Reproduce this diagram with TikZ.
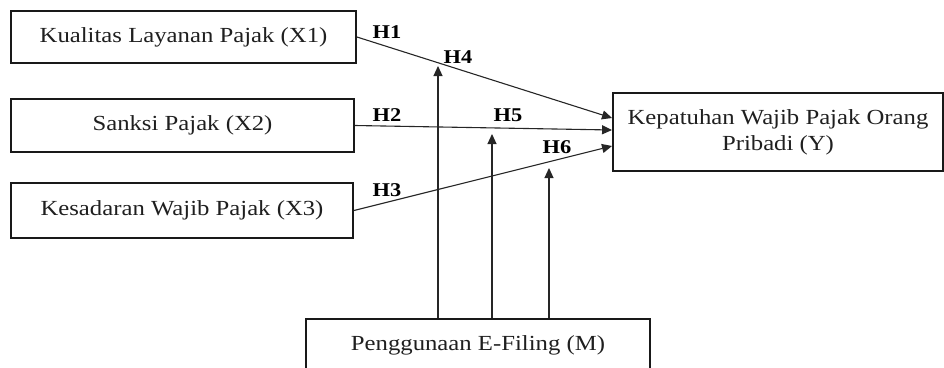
\documentclass[tikz,border=0pt]{standalone}
\usepackage{fontspec}
\setmainfont{Liberation Serif}[FakeStretch=1.15]
\usetikzlibrary{arrows.meta,calc}
\begin{document}
\begin{tikzpicture}[x=1bp,y=-1bp,
  varbox/.style={draw=black!90,line width=1.9bp,inner sep=0pt,align=center,
    font=\fontsize{21.5bp}{26bp}\selectfont,text=black!88},
  hlabel/.style={font=\fontsize{19.5bp}{22bp}\selectfont\bfseries,text=black,inner sep=0pt},
  link/.style={draw=black!85,line width=1.1bp,-{Triangle[length=10bp,width=9bp]}}]
\useasboundingbox (0,0) rectangle (944,367);
\node[varbox,minimum width=345bp,minimum height=52bp] (X1) at (183.5,37) {Kualitas Layanan Pajak (X1)};
\node[varbox,minimum width=343bp,minimum height=53bp] (X2) at (182.5,125.5) {Sanksi Pajak (X2)};
\node[varbox,minimum width=342bp,minimum height=55bp] (X3) at (182,210.5) {Kesadaran Wajib Pajak (X3)};
\node[varbox,minimum width=330bp,minimum height=78bp] (Y) at (778,132) {Kepatuhan Wajib Pajak Orang\\Pribadi (Y)};
\node[varbox,minimum width=344bp,minimum height=52bp] (M) at (478,345) {Penggunaan E-Filing (M)};
\coordinate (Y1) at ($(Y.west)+(0,-14)$);
\coordinate (Y2) at ($(Y.west)+(0,-2)$);
\coordinate (Y3) at ($(Y.west)+(0,14)$);
\coordinate (T4) at (438,66);
\coordinate (T5) at (492,134);
\coordinate (T6) at (549,168);
\draw[link] (X1.east) -- (Y1);
\draw[link] (X2.east) -- (Y2);
\draw[link] (X3.east) -- (Y3);
\draw[link] (M.north -| T4) -- (T4);
\draw[link] (M.north -| T5) -- (T5);
\draw[link] (M.north -| T6) -- (T6);
\node[hlabel] (H1) at (387,32) {H1};
\node[hlabel] (H2) at (387,115) {H2};
\node[hlabel] (H3) at (387,190) {H3};
\node[hlabel] (H4) at (458,57) {H4};
\node[hlabel] (H5) at (508,115) {H5};
\node[hlabel] (H6) at (557,147) {H6};
\end{tikzpicture}
\end{document}
